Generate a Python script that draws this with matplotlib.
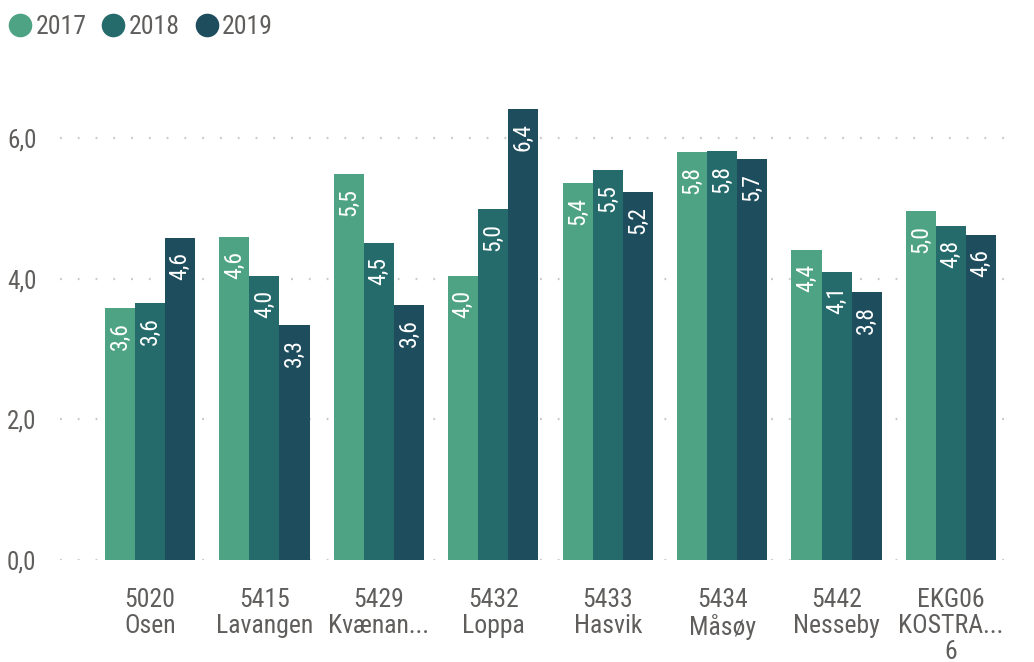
import numpy as np
import matplotlib
matplotlib.use("Agg")
import matplotlib.pyplot as plt
from matplotlib.lines import Line2D

# data
categories = [
    "5020\nOsen",
    "5415\nLavangen",
    "5429\nKvænan...",
    "5432\nLoppa",
    "5433\nHasvik",
    "5434\nMåsøy",
    "5442\nNesseby",
    "EKG06\nKOSTRA...\n6",
]
years = ["2017", "2018", "2019"]
v2017 = [3.58, 4.59, 5.49, 4.04, 5.36, 5.80, 4.41, 4.96]
v2018 = [3.65, 4.04, 4.51, 4.99, 5.55, 5.82, 4.10, 4.75]
v2019 = [4.58, 3.34, 3.63, 6.41, 5.23, 5.70, 3.81, 4.62]
series = [v2017, v2018, v2019]
colors = ["#4ea384", "#256b6c", "#1e4d5e"]

text_col = "#605e5c"
plt.rcParams["font.family"] = ["Roboto Condensed", "DejaVu Sans"]
plt.rcParams["font.stretch"] = "condensed"

fig = plt.figure(figsize=(10.34, 6.62), dpi=100)
ax = fig.add_axes([60 / 1034, 102 / 662, 960 / 1034, 492 / 662])

x = np.arange(len(categories))
w = 0.263
for i, (vals, c) in enumerate(zip(series, colors)):
    xs = x + (i - 1) * w
    ax.bar(xs, vals, width=w, color=c, zorder=2)
    for xi, v in zip(xs, vals):
        ax.annotate(
            f"{v:.1f}".replace(".", ","),
            (xi, v),
            xytext=(0, -10),
            textcoords="offset points",
            rotation=90,
            ha="center",
            va="top",
            color="white",
            fontsize=17,
            zorder=3,
        )

ax.set_xlim((60 - 150) / 114.4, 7 + (1020 - 951) / 114.4)
ax.set_ylim(0, 7)
ax.set_yticks([0, 2, 4, 6])
ax.set_yticklabels(["0,0", "2,0", "4,0", "6,0"])
ax.set_xticks(x)
ax.set_xticklabels(categories, linespacing=1.1)
ax.tick_params(axis="y", length=0, pad=17, labelsize=18, labelcolor=text_col)
ax.tick_params(axis="x", length=0, pad=20, labelsize=18.5, labelcolor=text_col)
for t in ax.get_xticklabels():
    t.set_verticalalignment("top")

for y in [0, 2, 4, 6]:
    ax.axhline(y, color="#c8c8c8", linewidth=1.6, linestyle=(0, (0.8, 7.2)), zorder=1)

for s in ax.spines.values():
    s.set_visible(False)

# legend
handles = [
    Line2D([], [], marker="o", linestyle="", markersize=17, color=c, markeredgewidth=0)
    for c in colors
]
fig.legend(
    handles, years,
    loc="upper left",
    bbox_to_anchor=(-0.018, 1.012),
    ncol=3,
    frameon=False,
    handletextpad=0.0,
    columnspacing=0.45,
    handlelength=1.2,
    prop={"size": 18.5},
    labelcolor=text_col,
)

fig.savefig("out.png", dpi=100)
